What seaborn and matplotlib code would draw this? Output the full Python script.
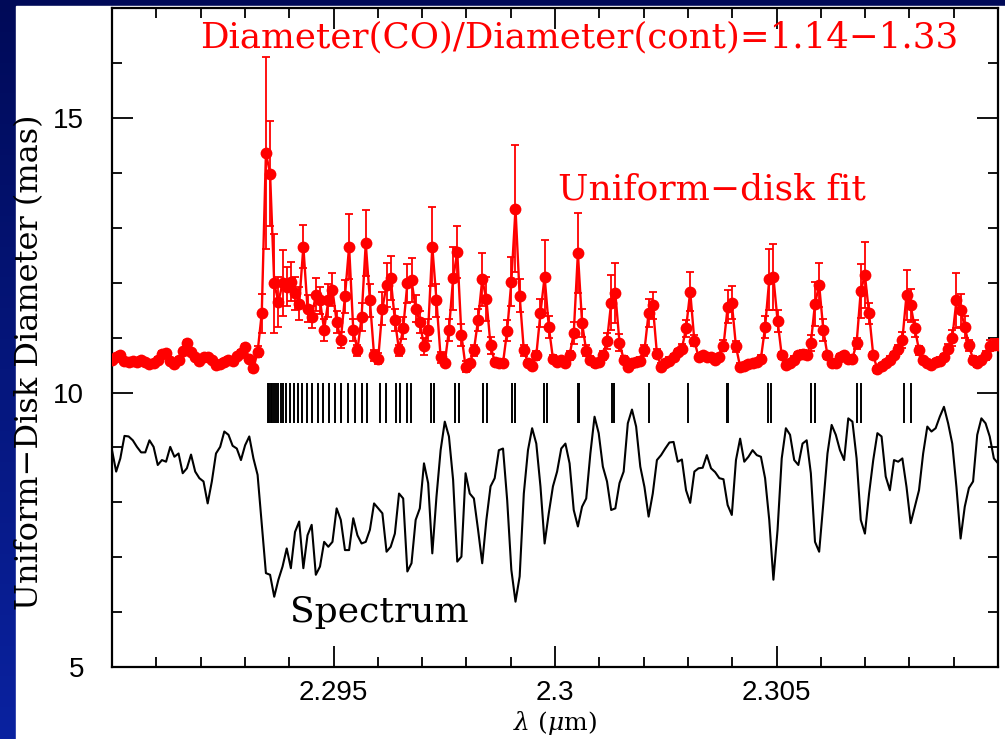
import numpy as np
import matplotlib
matplotlib.use("Agg")
import matplotlib.pyplot as plt
import matplotlib.colors as mcolors
from matplotlib.patches import Rectangle
from matplotlib.ticker import FixedLocator, MultipleLocator, FixedFormatter
import seaborn as sns

# Spectrograph wavelength channels (micron)
lam_start = 2.2900
lam_step = 0.0000939
n_chan = 214

# Uniform-disk diameter per channel (mas)
diameter = [
    10.59, 10.64, 10.68, 10.58, 10.55, 10.57, 10.55, 10.59, 10.55, 10.52,
    10.54, 10.60, 10.70, 10.72, 10.58, 10.52, 10.60, 10.75, 10.90, 10.74,
    10.64, 10.58, 10.64, 10.64, 10.60, 10.50, 10.52, 10.56, 10.60, 10.58,
    10.66, 10.72, 10.83, 10.62, 10.44, 10.74, 11.44, 14.36, 13.99, 11.99,
    11.65, 11.99, 11.93, 12.02, 11.81, 11.62, 12.66, 11.53, 11.38, 11.78,
    11.68, 11.14, 11.68, 11.87, 11.29, 10.96, 11.75, 12.66, 11.14, 10.77,
    11.38, 12.72, 11.68, 10.68, 10.62, 11.53, 11.96, 12.08, 11.32, 10.77,
    11.17, 11.99, 12.05, 11.53, 11.29, 10.84, 11.14, 12.66, 11.68, 10.64,
    10.54, 11.14, 12.08, 12.56, 11.05, 10.47, 10.53, 10.77, 11.32, 12.06,
    11.70, 10.86, 10.56, 10.53, 10.54, 11.13, 12.02, 13.35, 11.76, 10.77,
    10.54, 10.48, 10.68, 11.45, 12.11, 11.20, 10.62, 10.56, 10.59, 10.54,
    10.68, 11.08, 12.54, 11.27, 10.76, 10.60, 10.53, 10.56, 10.68, 10.94,
    11.64, 11.81, 10.91, 10.60, 10.47, 10.53, 10.56, 10.58, 10.77, 11.45,
    11.59, 10.71, 10.47, 10.53, 10.58, 10.65, 10.73, 10.80, 11.17, 11.84,
    10.94, 10.65, 10.68, 10.65, 10.64, 10.60, 10.64, 10.85, 11.56, 11.64,
    10.84, 10.47, 10.48, 10.52, 10.53, 10.56, 10.62, 11.19, 12.06, 12.10,
    11.31, 10.68, 10.50, 10.54, 10.60, 10.68, 10.71, 10.68, 10.90, 11.62,
    11.96, 11.14, 10.68, 10.54, 10.53, 10.65, 10.68, 10.62, 10.62, 10.90,
    11.85, 12.14, 11.44, 10.68, 10.42, 10.48, 10.53, 10.60, 10.68, 10.79,
    10.96, 11.78, 11.59, 11.17, 10.77, 10.59, 10.54, 10.50, 10.56, 10.58,
    10.64, 10.80, 10.99, 11.68, 11.50, 11.20, 10.86, 10.60, 10.53, 10.59,
    10.68, 10.85, 10.87, 10.87,
]

# 1-sigma uncertainty of the diameter (mas)
diameter_err = [
    0.05, 0.05, 0.05, 0.05, 0.05, 0.05, 0.05, 0.05, 0.05, 0.05,
    0.05, 0.05, 0.05, 0.05, 0.05, 0.05, 0.05, 0.05, 0.05, 0.05,
    0.05, 0.05, 0.05, 0.05, 0.05, 0.05, 0.05, 0.05, 0.05, 0.05,
    0.05, 0.05, 0.06, 0.05, 0.06, 0.10, 0.35, 1.75, 0.95, 0.90,
    0.45, 0.60, 0.35, 0.35, 0.30, 0.30, 0.40, 0.25, 0.20, 0.30,
    0.25, 0.20, 0.30, 0.30, 0.20, 0.15, 0.30, 0.60, 0.20, 0.10,
    0.25, 0.60, 0.30, 0.10, 0.10, 0.30, 0.40, 0.40, 0.20, 0.10,
    0.20, 0.35, 0.40, 0.25, 0.20, 0.15, 0.20, 0.72, 0.30, 0.10,
    0.06, 0.20, 0.57, 0.47, 0.20, 0.10, 0.06, 0.10, 0.20, 0.48,
    0.40, 0.15, 0.06, 0.06, 0.06, 0.20, 0.45, 1.16, 0.30, 0.10,
    0.06, 0.06, 0.08, 0.25, 0.67, 0.20, 0.06, 0.06, 0.06, 0.06,
    0.08, 0.20, 0.73, 0.25, 0.10, 0.06, 0.06, 0.06, 0.08, 0.15,
    0.50, 0.55, 0.15, 0.06, 0.06, 0.06, 0.06, 0.06, 0.10, 0.25,
    0.25, 0.08, 0.06, 0.06, 0.06, 0.06, 0.06, 0.08, 0.15, 0.35,
    0.10, 0.06, 0.06, 0.06, 0.06, 0.06, 0.06, 0.10, 0.30, 0.30,
    0.10, 0.06, 0.06, 0.06, 0.06, 0.06, 0.06, 0.20, 0.55, 0.60,
    0.20, 0.06, 0.06, 0.06, 0.06, 0.06, 0.06, 0.06, 0.15, 0.40,
    0.40, 0.20, 0.06, 0.06, 0.06, 0.06, 0.06, 0.06, 0.06, 0.10,
    0.50, 0.60, 0.20, 0.06, 0.06, 0.06, 0.06, 0.06, 0.06, 0.08,
    0.15, 0.45, 0.30, 0.15, 0.08, 0.06, 0.06, 0.06, 0.06, 0.06,
    0.06, 0.08, 0.15, 0.50, 0.30, 0.20, 0.10, 0.06, 0.06, 0.06,
    0.08, 0.10, 0.10, 0.10,
]

# Scaled spectrum, drawn on the same axis
spectrum = [
    8.95, 8.56, 8.80, 9.21, 9.20, 9.13, 9.01, 8.91, 8.91, 9.13,
    9.01, 8.68, 8.77, 8.74, 9.01, 8.83, 8.89, 8.53, 8.62, 8.87,
    8.56, 8.44, 8.38, 7.98, 8.38, 8.89, 9.01, 9.29, 9.23, 9.03,
    8.98, 8.77, 9.04, 9.20, 8.80, 8.50, 7.60, 6.71, 6.68, 6.28,
    6.59, 6.83, 7.16, 6.80, 7.46, 7.65, 6.80, 7.40, 7.59, 6.68,
    6.83, 7.28, 7.19, 7.28, 7.89, 7.68, 7.13, 7.13, 7.71, 7.40,
    7.25, 7.28, 7.50, 7.98, 7.89, 7.80, 7.10, 7.19, 7.43, 8.16,
    8.07, 6.74, 6.89, 7.68, 7.89, 8.71, 8.35, 7.07, 8.10, 8.95,
    9.47, 9.20, 8.41, 6.92, 7.01, 8.53, 8.16, 8.07, 7.50, 6.89,
    7.68, 8.29, 8.44, 8.95, 8.98, 8.04, 6.77, 6.19, 6.65, 8.16,
    8.95, 9.35, 9.07, 8.29, 7.25, 7.80, 8.29, 8.56, 8.98, 9.07,
    8.71, 7.86, 7.56, 7.92, 8.07, 8.89, 9.56, 9.26, 8.65, 8.38,
    7.86, 7.89, 8.35, 8.56, 9.44, 9.69, 9.38, 8.65, 8.28, 7.74,
    8.16, 8.77, 8.86, 8.98, 9.09, 9.10, 8.74, 8.78, 8.22, 7.99,
    8.56, 8.62, 8.63, 8.86, 8.62, 8.55, 8.44, 8.42, 7.95, 7.77,
    8.77, 9.16, 8.74, 8.83, 8.95, 8.86, 8.83, 8.44, 7.68, 6.59,
    7.50, 8.80, 9.35, 9.23, 8.77, 8.68, 9.07, 9.13, 8.53, 7.28,
    7.10, 7.98, 8.89, 9.41, 9.23, 8.95, 8.77, 9.53, 9.47, 8.80,
    7.68, 7.43, 8.16, 8.77, 9.26, 9.20, 8.47, 8.22, 8.77, 8.74,
    8.80, 8.28, 7.62, 7.92, 8.22, 8.89, 9.38, 9.29, 9.35, 9.56,
    9.74, 9.44, 9.07, 8.28, 7.34, 7.92, 8.26, 8.38, 9.23, 9.53,
    9.44, 9.20, 8.80, 8.71,
]

# CO line positions (micron)
co_lines = [
    2.293521, 2.293555, 2.293589, 2.293623, 2.293657, 2.293702, 2.293747,
    2.293804, 2.293860, 2.293939, 2.294018, 2.294108, 2.294199, 2.294289,
    2.294402, 2.294515, 2.294650, 2.294763, 2.294898, 2.295034, 2.295169,
    2.295327, 2.295485, 2.295643, 2.295756, 2.296050, 2.296185, 2.296411,
    2.296501, 2.296659, 2.296749, 2.297201, 2.297268, 2.297743, 2.297822,
    2.298386, 2.298465, 2.299029, 2.299097, 2.299752, 2.299819, 2.300508,
    2.300553, 2.301287, 2.301321, 2.302133, 2.303002, 2.303882, 2.303916,
    2.304819, 2.304887, 2.305779, 2.305858, 2.306817, 2.306907, 2.307867,
    2.308036,
]
co_tick_range = (9.44, 10.17)

xtick_values = [2.295, 2.300, 2.305]
xtick_labels = ["2.295", "2.3", "2.305"]
ytick_values = [5, 10, 15]
ytick_labels = ["5", "10", "15"]

title_text = "Diameter(CO)/Diameter(cont)=1.14\u22121.33"
fit_text = "Uniform\u2212disk fit"
spec_text = "Spectrum"
ylabel_text = "Uniform\u2212Disk Diameter (mas)"
xlabel_text = r"$\lambda$ ($\mu$m)"

lam = lam_start + lam_step * np.arange(n_chan)

sns.set_style("ticks")
plt.rcParams["font.family"] = ["DejaVu Serif"]
plt.rcParams["mathtext.fontset"] = "dejavuserif"

W, H = 1005, 739
fig = plt.figure(figsize=(W / 100, H / 100), dpi=100)

# slide background: blue gradient with a white panel
bg = fig.add_axes([0, 0, 1, 1], zorder=-10)
bg.set_axis_off()
grad = np.linspace(0, 1, 256).reshape(-1, 1)
cmap = mcolors.LinearSegmentedColormap.from_list("slide", ["#000a58", "#0a22a0"])
bg.imshow(grad, aspect="auto", cmap=cmap, extent=[0, 1, 0, 1], origin="upper")
bg.add_patch(Rectangle((16 / W, 0), 1 - 16 / W, 1 - 6 / H,
                       transform=bg.transAxes, color="white", zorder=2))
bg.set_xlim(0, 1)
bg.set_ylim(0, 1)

left, right, top, bottom = 112, 998, 8.3, 667
ax = fig.add_axes([left / W, 1 - bottom / H, (right - left) / W, (bottom - top) / H])
ax.set_facecolor("white")

# spectrum
sns.lineplot(x=lam, y=spectrum, color="black", linewidth=1.5, ax=ax,
             sort=False, estimator=None)

# CO line markers
ax.vlines(co_lines, co_tick_range[0], co_tick_range[1], color="black", linewidth=1.4)

# diameter with error bars
ax.errorbar(lam, diameter, yerr=diameter_err, fmt="none", ecolor="#ff0000",
            elinewidth=1.3, capsize=3.2, capthick=1.3, zorder=3)
sns.lineplot(x=lam, y=diameter, color="#ff0000", linewidth=1.7, marker="o",
             markersize=8.5, markeredgewidth=0, ax=ax, sort=False,
             estimator=None, zorder=4)

ax.set_xlim(2.29, 2.31)
ax.set_ylim(5, 17)
ax.xaxis.set_major_locator(FixedLocator(xtick_values))
ax.xaxis.set_major_formatter(FixedFormatter(xtick_labels))
ax.xaxis.set_minor_locator(MultipleLocator(0.001))
ax.yaxis.set_major_locator(FixedLocator(ytick_values))
ax.yaxis.set_major_formatter(FixedFormatter(ytick_labels))
ax.yaxis.set_minor_locator(MultipleLocator(1))
ax.tick_params(which="both", direction="in", top=True, right=True,
               colors="black", width=1.3)
ax.tick_params(which="major", length=15)
ax.tick_params(which="minor", length=7)
ax.tick_params(axis="x", which="major", pad=9)
ax.tick_params(axis="y", which="major", pad=20)
for lab in ax.get_xticklabels() + ax.get_yticklabels():
    lab.set_fontfamily("Liberation Sans")
    lab.set_fontsize(20)
for sp in ax.spines.values():
    sp.set_linewidth(1.6)
    sp.set_color("black")
ax.set_xlabel("")
ax.set_ylabel("")

ax.text(2.30054, 16.46, title_text, color="#ff0000", ha="center", va="center",
        fontsize=25.7, family="DejaVu Serif")
ax.text(2.30006, 13.69, fit_text, color="#ff0000", ha="left", va="center",
        fontsize=26, family="DejaVu Serif")
ax.text(2.29402, 6.0, spec_text, color="black", ha="left", va="center",
        fontsize=26, family="DejaVu Serif")

fig.text(30 / W, 1 - 362 / H, ylabel_text, rotation=90, ha="center", va="center",
         fontsize=23, color="black")
fig.text(555 / W, 1 - 723 / H, xlabel_text, ha="center", va="center",
         fontsize=18, color="black")

fig.savefig("out.png", dpi=100)
